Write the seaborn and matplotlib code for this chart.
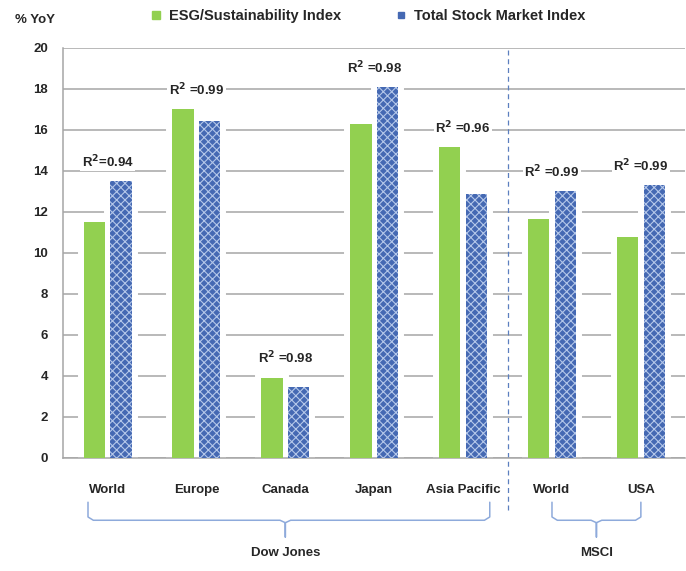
import numpy as np
import matplotlib
matplotlib.use('Agg')
import matplotlib.pyplot as plt
import matplotlib.transforms as mtransforms
from matplotlib.patches import Rectangle
from matplotlib.lines import Line2D
import seaborn as sns
import pandas as pd

# data
regions = ['DJ World', 'DJ Europe', 'DJ Canada', 'DJ Japan', 'DJ Asia Pacific', 'MSCI World', 'MSCI USA']
tick_labels = ['World', 'Europe', 'Canada', 'Japan', 'Asia Pacific', 'World', 'USA']
esg = [11.5, 17.0, 3.9, 16.27, 15.15, 11.65, 10.8]
total = [13.5, 16.45, 3.45, 18.08, 12.9, 13.0, 13.3]
r2_labels = ['R$^{\\mathbf{2}}$=0.94', 'R$^{\\mathbf{2}}$ =0.99', 'R$^{\\mathbf{2}}$ =0.98', 'R$^{\\mathbf{2}}$ =0.98',
             'R$^{\\mathbf{2}}$ =0.96', 'R$^{\\mathbf{2}}$ =0.99', 'R$^{\\mathbf{2}}$ =0.99']
series = ['ESG/Sustainability Index', 'Total Stock Market Index']
groups = [('Dow Jones', 0, 4), ('MSCI', 5, 6)]
yticks = list(range(0, 21, 2))

green = '#92d050'
blue = '#4569b3'
grid_gray = '#a6a6a6'
bracket_blue = '#8eaadb'

df = pd.DataFrame({
    'Region': regions * 2,
    'Index': [series[0]] * len(regions) + [series[1]] * len(regions),
    'Value': esg + total,
})

sns.set_style('white')
plt.rcParams['font.family'] = ['Liberation Sans', 'DejaVu Sans']
plt.rcParams['font.weight'] = 'bold'
plt.rcParams['hatch.linewidth'] = 0.8

fig = plt.figure(figsize=(6.86, 5.71), dpi=100)
ax = fig.add_axes([0.092, 0.198, 0.907, 0.718])

sns.barplot(data=df, x='Region', y='Value', hue='Index', order=regions, hue_order=series,
            palette=[green, blue], saturation=1, width=0.6, gap=0.2, legend=False, ax=ax, zorder=3)

# white halo behind each bar (gridlines stop short of the bars)
for i, p in enumerate(ax.patches):
    halo = Rectangle(p.get_xy(), p.get_width(), p.get_height(), facecolor='white',
                     edgecolor='white', linewidth=8.6, joinstyle='miter', zorder=2)
    ax.add_patch(halo)
    p.set_linewidth(0)
    if i >= len(regions):
        p.set_edgecolor('#b4c7e9')
        p.set_hatch('xxxx')
    else:
        p.set_edgecolor(green)

ax.set_ylim(0, 20)
ax.set_xlim(-0.5, len(regions) - 0.5)
ax.set_yticks(yticks)
ax.yaxis.grid(True, color=grid_gray, linewidth=1.1, zorder=0)
ax.set_axisbelow(True)
ax.set_xlabel('')
ax.set_ylabel('')

for s in ['top', 'right']:
    ax.spines[s].set_visible(False)
for s in ['left', 'bottom']:
    ax.spines[s].set_color(grid_gray)
    ax.spines[s].set_linewidth(1.1)

ax.tick_params(axis='y', direction='out', length=5, color=grid_gray, labelsize=9.5, pad=6)
ax.set_xticks(range(len(regions)))
ax.set_xticklabels(tick_labels, fontsize=9.5, fontweight='bold')
ax.tick_params(axis='x', which='major', length=0, pad=19)
ax.set_xticks(np.arange(-0.5, len(regions), 1), minor=True)
ax.tick_params(axis='x', which='minor', direction='out', length=5, color=grid_gray)
for lab in ax.get_yticklabels():
    lab.set_fontweight('bold')

# R squared labels
for i, lab in enumerate(r2_labels):
    ax.text(i, max(esg[i], total[i]) + 0.55, lab, ha='center', va='bottom',
            fontsize=9.5, fontweight='bold', zorder=4,
            bbox=dict(facecolor='white', edgecolor='none', pad=1))

# dashed separator between Dow Jones and MSCI
ax.axvline(4.5, ymin=-0.127, ymax=1.0, color='#5b7fbf', linestyle=(0, (4, 3)),
           linewidth=0.9, clip_on=False, zorder=1)

# group brackets under the category labels
trans = mtransforms.blended_transform_factory(ax.transData, ax.transAxes)
for name, a, b in groups:
    if name == 'Dow Jones':
        x0, x1 = a - 0.22, b + 0.3
    else:
        x0, x1 = a, b
    xm = (a + b) / 2
    top, mid, low = -0.108, -0.152, -0.193
    r = 0.06
    xs = [x0, x0, x0 + r, xm - r, xm, xm, xm, xm + r, x1 - r, x1, x1]
    ys = [top, mid + 0.008, mid, mid, mid - 0.006, low, mid - 0.006, mid, mid, mid + 0.008, top]
    ax.plot(xs, ys, transform=trans, color=bracket_blue, linewidth=1.1, clip_on=False)
    ax.text(xm, -0.232, name, transform=trans, ha='center', va='center',
            fontsize=9.5, fontweight='bold')

fig.text(0.022, 0.965, '% YoY', fontsize=9.5, fontweight='bold', va='center')

handles = [Line2D([], [], marker='s', linestyle='', color=green, markersize=6),
           Line2D([], [], marker='s', linestyle='', color=blue, markersize=4.5)]
fig.legend(handles, series, loc='center', bbox_to_anchor=(0.535, 0.972), ncol=2,
           frameon=False, handletextpad=0.4, columnspacing=3.6,
           handlelength=1.0, prop={'weight': 'bold', 'size': 10.5})

fig.savefig('out.png', dpi=100)
